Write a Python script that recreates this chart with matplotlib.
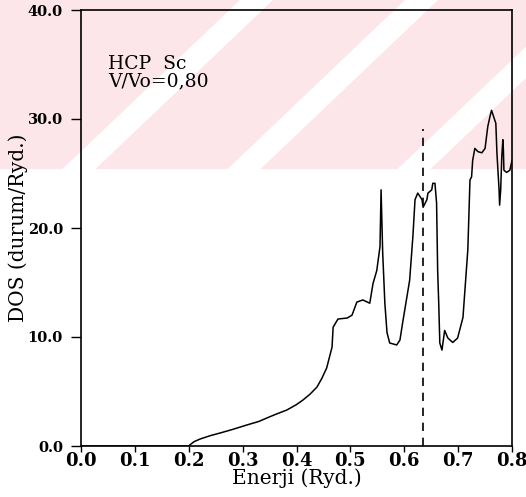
import matplotlib
matplotlib.use("Agg")
import matplotlib.pyplot as plt
from matplotlib.patches import Polygon, Rectangle

# density of states, HCP Sc at V/Vo = 0.80
energy = [0.000, 0.200, 0.202, 0.210, 0.221, 0.240, 0.258, 0.280, 0.308, 0.330,
          0.345, 0.360, 0.382, 0.400, 0.412, 0.425, 0.438, 0.447, 0.456, 0.466,
          0.468, 0.477, 0.494, 0.503, 0.512, 0.523, 0.536, 0.542,
          0.549, 0.555, 0.557, 0.560, 0.564, 0.568, 0.573, 0.586, 0.592, 0.597,
          0.610, 0.616, 0.620, 0.625, 0.633, 0.635, 0.642, 0.644, 0.651, 0.653,
          0.657, 0.660, 0.662, 0.664, 0.666, 0.670, 0.675, 0.681, 0.690, 0.699,
          0.709, 0.718, 0.722, 0.725, 0.727, 0.731, 0.737, 0.744, 0.750, 0.755,
          0.759, 0.762, 0.764, 0.770, 0.772, 0.776, 0.777, 0.779, 0.781, 0.783,
          0.784, 0.785, 0.790, 0.796, 0.800]
dos = [0.0, 0.0, 0.1, 0.4, 0.64, 0.95, 1.19, 1.5, 1.93, 2.25,
       2.57, 2.88, 3.30, 3.80, 4.22, 4.75, 5.41, 6.20, 7.16, 9.08,
       10.9, 11.65, 11.74, 12.0, 13.2, 13.4, 13.1, 14.9,
       16.1, 18.3, 23.5, 17.7, 13.1, 10.4, 9.45, 9.27, 9.72, 11.3,
       15.2, 19.2, 22.6, 23.2, 22.6, 21.9, 22.6, 23.2, 23.5, 24.1,
       24.1, 22.3, 16.1, 13.1, 9.45, 8.8, 10.6, 9.9, 9.5, 9.9,
       11.8, 18.0, 24.4, 24.7, 26.2, 27.3, 27.0, 26.9, 27.3, 29.3,
       30.2, 30.8, 30.5, 29.6, 26.9, 23.5, 22.1, 23.5, 26.5, 28.1,
       27.2, 25.3, 25.1, 25.3, 26.2]

fermi = 0.634
fermi_top = 29.1

xticks = [0.0, 0.1, 0.2, 0.3, 0.4, 0.5, 0.6, 0.7, 0.8]
yticks = [0.0, 10.0, 20.0, 30.0, 40.0]

W, H = 526, 497
fig = plt.figure(figsize=(W / 100, H / 100), dpi=100)

# pink striped band across the upper part of the page
bg = fig.add_axes([0, 0, 1, 1], zorder=0)
bg.set_xlim(0, W)
bg.set_ylim(H, 0)
bg.axis('off')
pink = (0.99, 0.9, 0.915)
band_bottom = 169
bg.add_patch(Rectangle((0, 0), W, band_bottom, color=pink, lw=0))
slope = 1.05
for x0 in [240, 405, 575]:
    w = 33
    dx = slope * band_bottom
    bg.add_patch(Polygon([(x0, 0), (x0 + w, 0), (x0 + w - dx, band_bottom),
                          (x0 - dx, band_bottom)], closed=True, color='white', lw=0))

ax = fig.add_axes([81 / W, 1 - 446 / H, (512 - 81) / W, (446 - 10) / H], zorder=1)
ax.set_facecolor('none')

ax.plot(energy, dos, color='black', lw=1.1)
ax.plot([fermi, fermi], [0, fermi_top], color='black', lw=1.2, ls=(0, (5, 4)))

ax.set_xlim(0, 0.8)
ax.set_ylim(0, 40)
ax.set_xticks(xticks)
ax.set_xticklabels(['%.1f' % v for v in xticks], family='DejaVu Serif',
                   fontweight='bold', fontsize=13)
ax.set_yticks(yticks)
ax.set_yticklabels(['%.1f' % v for v in yticks], family='DejaVu Serif',
                   fontweight='bold', fontsize=10.5)
ax.tick_params(axis='x', direction='out', length=4, width=1, pad=0)
ax.tick_params(axis='y', direction='out', length=7, width=1, pad=6)
for s in ax.spines.values():
    s.set_linewidth(1.2)

ax.set_xlabel('Enerji (Ryd.)', family='DejaVu Serif', fontsize=14.5, labelpad=-1)
ax.set_ylabel('DOS (durum/Ryd.)', family='DejaVu Serif', fontsize=14.5, labelpad=0)

ax.text(0.05, 35.9, 'HCP  Sc\nV/Vo=0,80', family='DejaVu Serif', fontsize=13.5,
        va='top', ha='left', linespacing=0.95)

fig.savefig('out.png', dpi=100)
